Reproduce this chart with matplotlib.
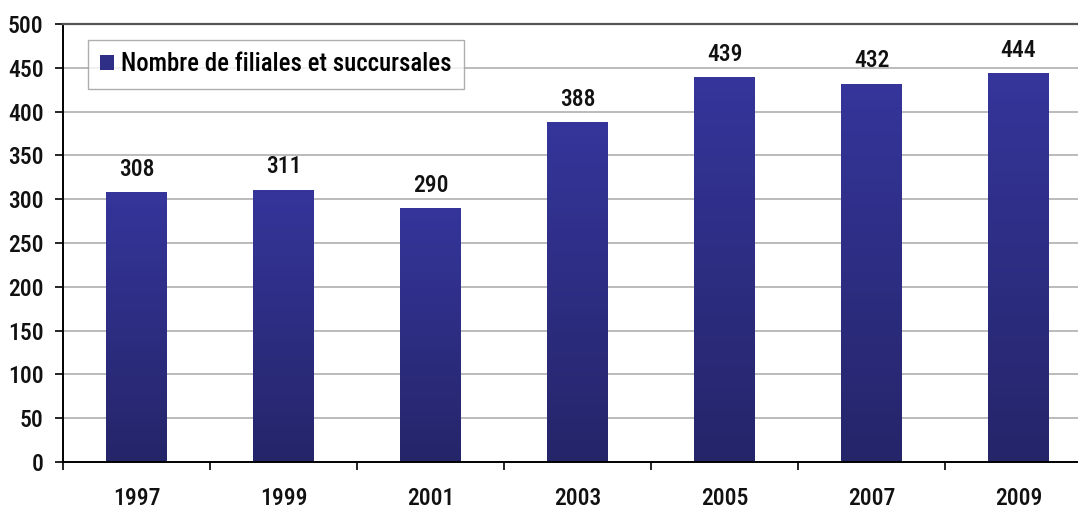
import numpy as np
import matplotlib
matplotlib.use("Agg")
import matplotlib.pyplot as plt
from matplotlib.colors import LinearSegmentedColormap
from matplotlib.patches import Rectangle

years = ["1997", "1999", "2001", "2003", "2005", "2007", "2009"]
counts = [308, 311, 290, 388, 439, 432, 444]
series_name = "Nombre de filiales et succursales"
y_ticks = [0, 50, 100, 150, 200, 250, 300, 350, 400, 450, 500]

plt.rcParams["font.family"] = ["Roboto Condensed", "DejaVu Sans"]
FS = 17
FW = 500

fig = plt.figure(figsize=(10.78, 5.08), dpi=100)
ax = fig.add_axes([63 / 1078, 46 / 508, 1029 / 1078, 438 / 508])

x = np.arange(len(years))
bars = ax.bar(x, counts, width=0.41, color="#2f2f88", zorder=2)

# vertical gradient inside each bar: lighter at the top, darker at the base
cmap = LinearSegmentedColormap.from_list("bar_grad", ["#25256a", "#35359b"])
grad = np.linspace(0, 1, 256).reshape(-1, 1)
for b in bars:
    x0, w, h = b.get_x(), b.get_width(), b.get_height()
    im = ax.imshow(grad, cmap=cmap, origin="lower", aspect="auto",
                   extent=(x0, x0 + w, 0, h), zorder=2.5)
    im.set_clip_path(b)

for xi, v in zip(x, counts):
    ax.annotate(str(v), (xi, v), xytext=(0, 8), textcoords="offset points",
                ha="center", va="bottom", fontsize=FS, fontweight=FW,
                color="#111111", zorder=4)

ax.set_xlim(-0.5, len(years) - 0.5)
ax.set_ylim(0, 500)
ax.set_yticks(y_ticks)
ax.set_yticklabels([str(t) for t in y_ticks], fontsize=FS, fontweight=FW)
ax.set_xticks(x)
ax.set_xticklabels(years, fontsize=FS, fontweight=FW)
ax.set_xticks(np.arange(len(years) + 1) - 0.5, minor=True)
ax.tick_params(axis="x", which="major", length=0, pad=18)
ax.tick_params(axis="x", which="minor", length=6, width=1.2, color="black", direction="out")
ax.tick_params(axis="y", length=6, width=1.2, direction="out", pad=8)
for lbl in ax.get_xticklabels() + ax.get_yticklabels():
    lbl.set_color("#111111")

ax.grid(axis="y", color="#a8a8a8", linewidth=1.1, zorder=0)
ax.set_axisbelow(True)

for side in ("left", "bottom"):
    ax.spines[side].set_color("black")
    ax.spines[side].set_linewidth(1.4)
ax.spines["top"].set_color("#555555")
ax.spines["top"].set_linewidth(1.6)
ax.spines["right"].set_visible(False)

handle = Rectangle((0, 0), 1, 1, facecolor="#2f2f88")
leg = ax.legend([handle], [series_name], loc="upper left",
                bbox_to_anchor=(25 / 1029, 1 - 16 / 438),
                prop={"weight": FW, "size": 17.8},
                frameon=True, fancybox=False, handlelength=0.55, handleheight=0.6,
                handletextpad=0.3, borderpad=0.5, borderaxespad=0)
leg.get_frame().set_edgecolor("#9a9a9a")
leg.get_frame().set_linewidth(1.0)

fig.savefig("out.png", dpi=100)
